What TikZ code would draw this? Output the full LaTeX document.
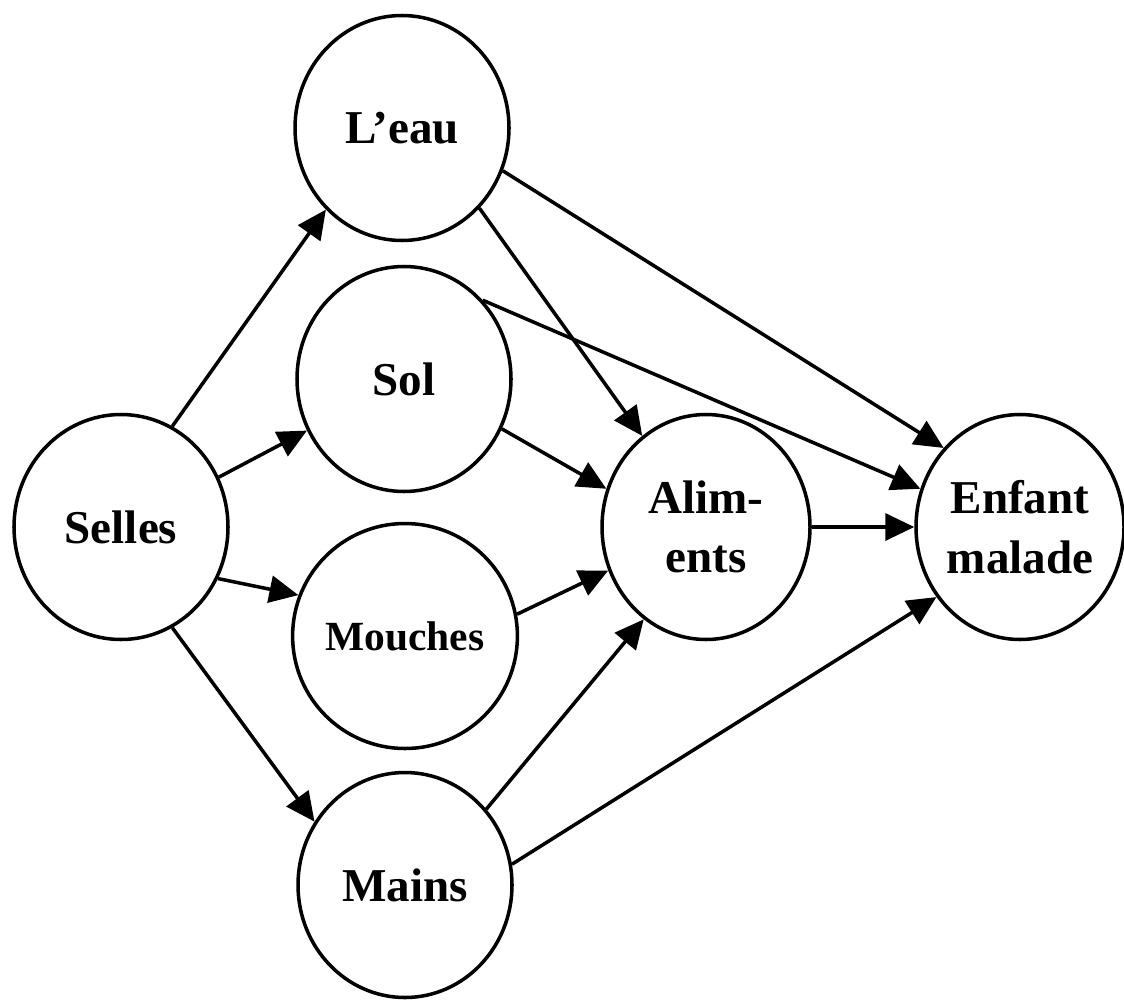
\documentclass[tikz,border=0pt]{standalone}
\usepackage{fontspec}
\setmainfont{Liberation Serif}
\usetikzlibrary{arrows.meta,shapes.geometric}

\begin{document}
\begin{tikzpicture}[
    circulo/.style={draw, ellipse, line width=1pt, inner sep=0pt,
      minimum width=2.14cm, minimum height=2.25cm, align=center,
      font=\fontsize{13.4}{17}\selectfont\bfseries},
    flecha/.style={line width=1pt, -{Triangle[length=0.29cm, width=0.27cm]}}
  ]
    \useasboundingbox (0, 0) rectangle (11.24, 10.01);

    % Nodos
    \node[circulo] (selles) at (1.21, 4.74) {Selles};
    \node[circulo] (eau) at (4.02, 8.73) {L’eau};
    \node[circulo] (sol) at (4.04, 6.22) {Sol};
    \node[circulo, font=\fontsize{11.8}{14}\selectfont\bfseries] (mouches) at (4.05, 3.65) {Mouches};
    \node[circulo] (mains) at (4.05, 1.16) {Mains};
    \node[circulo, minimum width=2.08cm] (aliments) at (7.06, 4.74) {Alim-\\ents};
    \node[circulo, minimum width=2.08cm] (enfant) at (10.20, 4.74) {Enfant\\malade};

    % Flechas desde Selles
    \draw[flecha] (selles.63) -- (eau.227);
    \draw[flecha] (selles.27) -- (sol.208);
    \draw[flecha] (selles.-28) -- (mouches.159);
    \draw[flecha] (selles.-63) -- (mains.145);

    % Flechas hacia Aliments y Enfant
    \draw[flecha] (eau.-46) -- (aliments.125);
    \draw[flecha] (eau.-23) -- (enfant.134);
    \draw[flecha] (sol.45) -- (enfant.159);
    \draw[flecha] (sol.-27) -- (aliments.159);
    \draw[flecha] (mouches.11) -- (aliments.204);
    \draw[flecha] (mains.43) -- (aliments.236);
    \draw[flecha] (mains.11) -- (enfant.220);
    \draw[flecha] (aliments.0) -- (enfant.180);

\end{tikzpicture}
\end{document}
